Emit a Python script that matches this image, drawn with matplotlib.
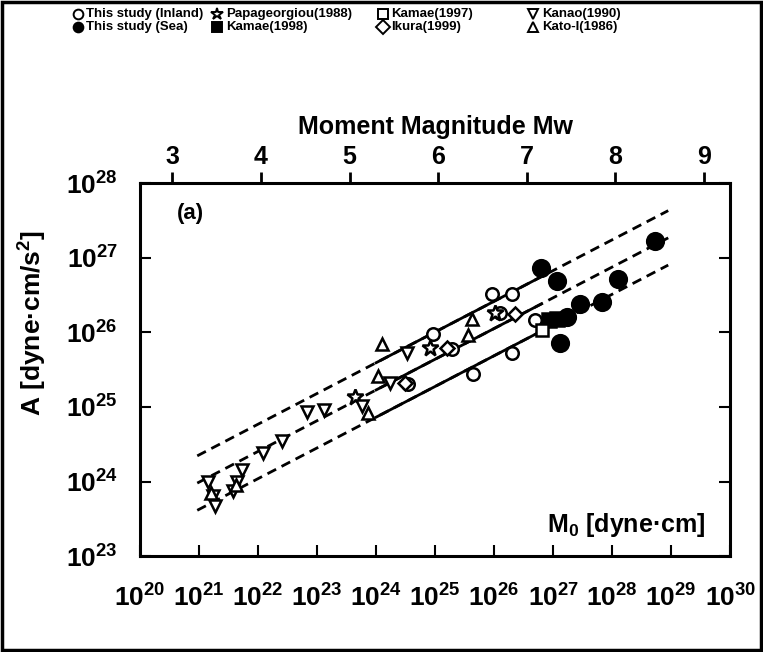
import numpy as np
import matplotlib
matplotlib.use('Agg')
import matplotlib.pyplot as plt
from matplotlib.patches import Rectangle

plt.rcParams['font.family'] = ['Liberation Sans', 'DejaVu Sans']
plt.rcParams['font.weight'] = 'bold'
plt.rcParams['axes.labelweight'] = 'bold'
plt.rcParams['mathtext.default'] = 'regular'

# log10(M0) and log10(A)
inland_m = [24.54, 24.97, 25.29, 25.64, 25.97, 26.31, 26.10, 26.69, 26.31]
inland_a = [25.31, 25.98, 25.78, 25.44, 26.52, 26.52, 26.26, 26.17, 25.73]
sea_m = [26.80, 27.07, 28.10, 28.73, 27.83, 27.46, 27.24, 27.12]
sea_a = [26.86, 26.69, 26.72, 27.23, 26.41, 26.38, 26.20, 25.86]
papa_m = [23.64, 24.92, 26.02]
papa_a = [25.13, 25.79, 26.26]
kamae98_m = [26.93, 27.07]
kamae98_a = [26.16, 26.18]
kamae97_m = [26.81]
kamae97_a = [26.03]
ikura_m = [24.49, 25.20, 26.36]
ikura_a = [25.32, 25.79, 26.25]
kanao_m = [21.15, 21.24, 21.27, 21.58, 21.64, 21.73, 22.08, 22.41, 22.83, 23.12, 23.76, 24.24, 24.53]
kanao_a = [24.00, 23.80, 23.67, 23.87, 24.00, 24.16, 24.38, 24.54, 24.93, 24.96, 25.01, 25.32, 25.73]
kato_m = [21.20, 21.62, 23.86, 24.03, 24.10, 25.56, 25.63]
kato_a = [23.85, 23.95, 24.92, 25.42, 25.85, 25.97, 26.18]

# regression log A = icpt + slope * log M0, with +/- spread
fit_slope = 0.412
fit_icpt = 15.34
fit_spread = 0.365
fit_range = [20.97, 28.95]
fit_solid = [24.0, 26.8]

mw_ticks = [3, 4, 5, 6, 7, 8, 9]

fig = plt.figure(figsize=(7.63, 6.52), dpi=100)
ax = fig.add_axes([0.1835, 0.147, 0.7735, 0.572])
ax.set_xscale('log')
ax.set_yscale('log')
ax.set_xlim(1e20, 1e30)
ax.set_ylim(1e23, 1e28)

def P(m, a):
    return 10.0 ** np.array(m), 10.0 ** np.array(a)

mm = np.linspace(fit_range[0], fit_range[1], 50)
ms = np.linspace(fit_solid[0], fit_solid[1], 20)
for off in (fit_spread, 0.0, -fit_spread):
    x, y = P(mm, fit_icpt + fit_slope * mm + off)
    ax.plot(x, y, color='black', lw=2.0, ls=(0, (3.5, 2.2)), zorder=2)
    x, y = P(ms, fit_icpt + fit_slope * ms + off)
    ax.plot(x, y, color='black', lw=2.0, zorder=2)

kw = dict(ls='none', color='black', mew=1.8, zorder=3)
ax.plot(*P(inland_m, inland_a), marker='o', ms=9, mfc='white', **kw)
ax.plot(*P(sea_m, sea_a), marker='o', ms=12, mfc='black', **kw)
ax.plot(*P(papa_m, papa_a), marker='*', ms=12, mfc='white', **kw)
ax.plot(*P(kamae98_m, kamae98_a), marker='s', ms=10, mfc='black', **kw)
ax.plot(*P(kamae97_m, kamae97_a), marker='s', ms=8, mfc='white', **kw)
ax.plot(*P(ikura_m, ikura_a), marker='D', ms=7, mfc='white', **kw)
ax.plot(*P(kanao_m, kanao_a), marker='v', ms=9, mfc='white', **kw)
ax.plot(*P(kato_m, kato_a), marker='^', ms=9, mfc='white', **kw)

for s in ax.spines.values():
    s.set_linewidth(2.2)
ax.tick_params(which='both', direction='in', top=True, right=True, width=1.5)
ax.tick_params(which='major', length=8, labelsize=19)
ax.tick_params(which='minor', length=4)
ax.tick_params(axis='x', which='major', pad=20)
ax.tick_params(axis='y', which='major', pad=16)
ax.set_xticks([10.0 ** k for k in range(20, 31)])
ax.set_yticks([10.0 ** k for k in range(23, 29)])
ax.set_xticklabels([r'$\mathdefault{10^{%d}}$' % k for k in range(20, 31)])
ax.set_yticklabels([r'$\mathdefault{10^{%d}}$' % k for k in range(23, 29)])

ax.set_ylabel('A [dyne·cm/s$^{2}$]', fontsize=19)
ax.yaxis.set_label_coords(-0.155, 0.625)
ax.text(0.958, 0.045, 'M$_{0}$ [dyne·cm]', transform=ax.transAxes,
        ha='right', va='bottom', fontsize=18)
ax.text(0.063, 0.92, '(a)', transform=ax.transAxes, ha='left', va='center', fontsize=16)

# moment magnitude on top
ax2 = ax.twiny()
ax2.set_xscale('log')
ax2.set_xlim(ax.get_xlim())
ax2.set_xticks([10.0 ** (1.5 * (w + 10.7)) for w in mw_ticks])
ax2.set_xticklabels([str(w) for w in mw_ticks], fontweight='bold')
ax2.minorticks_off()
ax2.tick_params(direction='out', length=8, width=2, labelsize=18, pad=2)
ax2.set_xlabel('Moment Magnitude Mw', fontsize=18, labelpad=8)
for s in ax2.spines.values():
    s.set_visible(False)

# legend in four columns above the plot
leg = [
    ('o', 'white', 'This study (Inland)', 0.102, 0.978),
    ('o', 'black', 'This study (Sea)', 0.102, 0.958),
    ('*', 'white', 'Papageorgiou(1988)', 0.285, 0.978),
    ('s', 'black', 'Kamae(1998)', 0.285, 0.958),
    ('s', 'white', 'Kamae(1997)', 0.502, 0.978),
    ('D', 'white', 'Ikura(1999)', 0.502, 0.958),
    ('v', 'white', 'Kanao(1990)', 0.699, 0.978),
    ('^', 'white', 'Kato-I(1986)', 0.699, 0.958),
]
for mk, fc, txt, lx, ly in leg:
    fig.lines.append(plt.Line2D([lx], [ly], marker=mk, ms=7 if mk != '*' else 9,
                                mfc=fc, mec='black', mew=1.4, ls='none',
                                transform=fig.transFigure))
    fig.text(lx + 0.011, ly, txt, fontsize=9.5, ha='left', va='center')

fig.patches.append(Rectangle((0.003, 0.003), 0.994, 0.994, transform=fig.transFigure,
                             fill=False, lw=2.5, ec='black'))

fig.savefig('out.png', dpi=100)
